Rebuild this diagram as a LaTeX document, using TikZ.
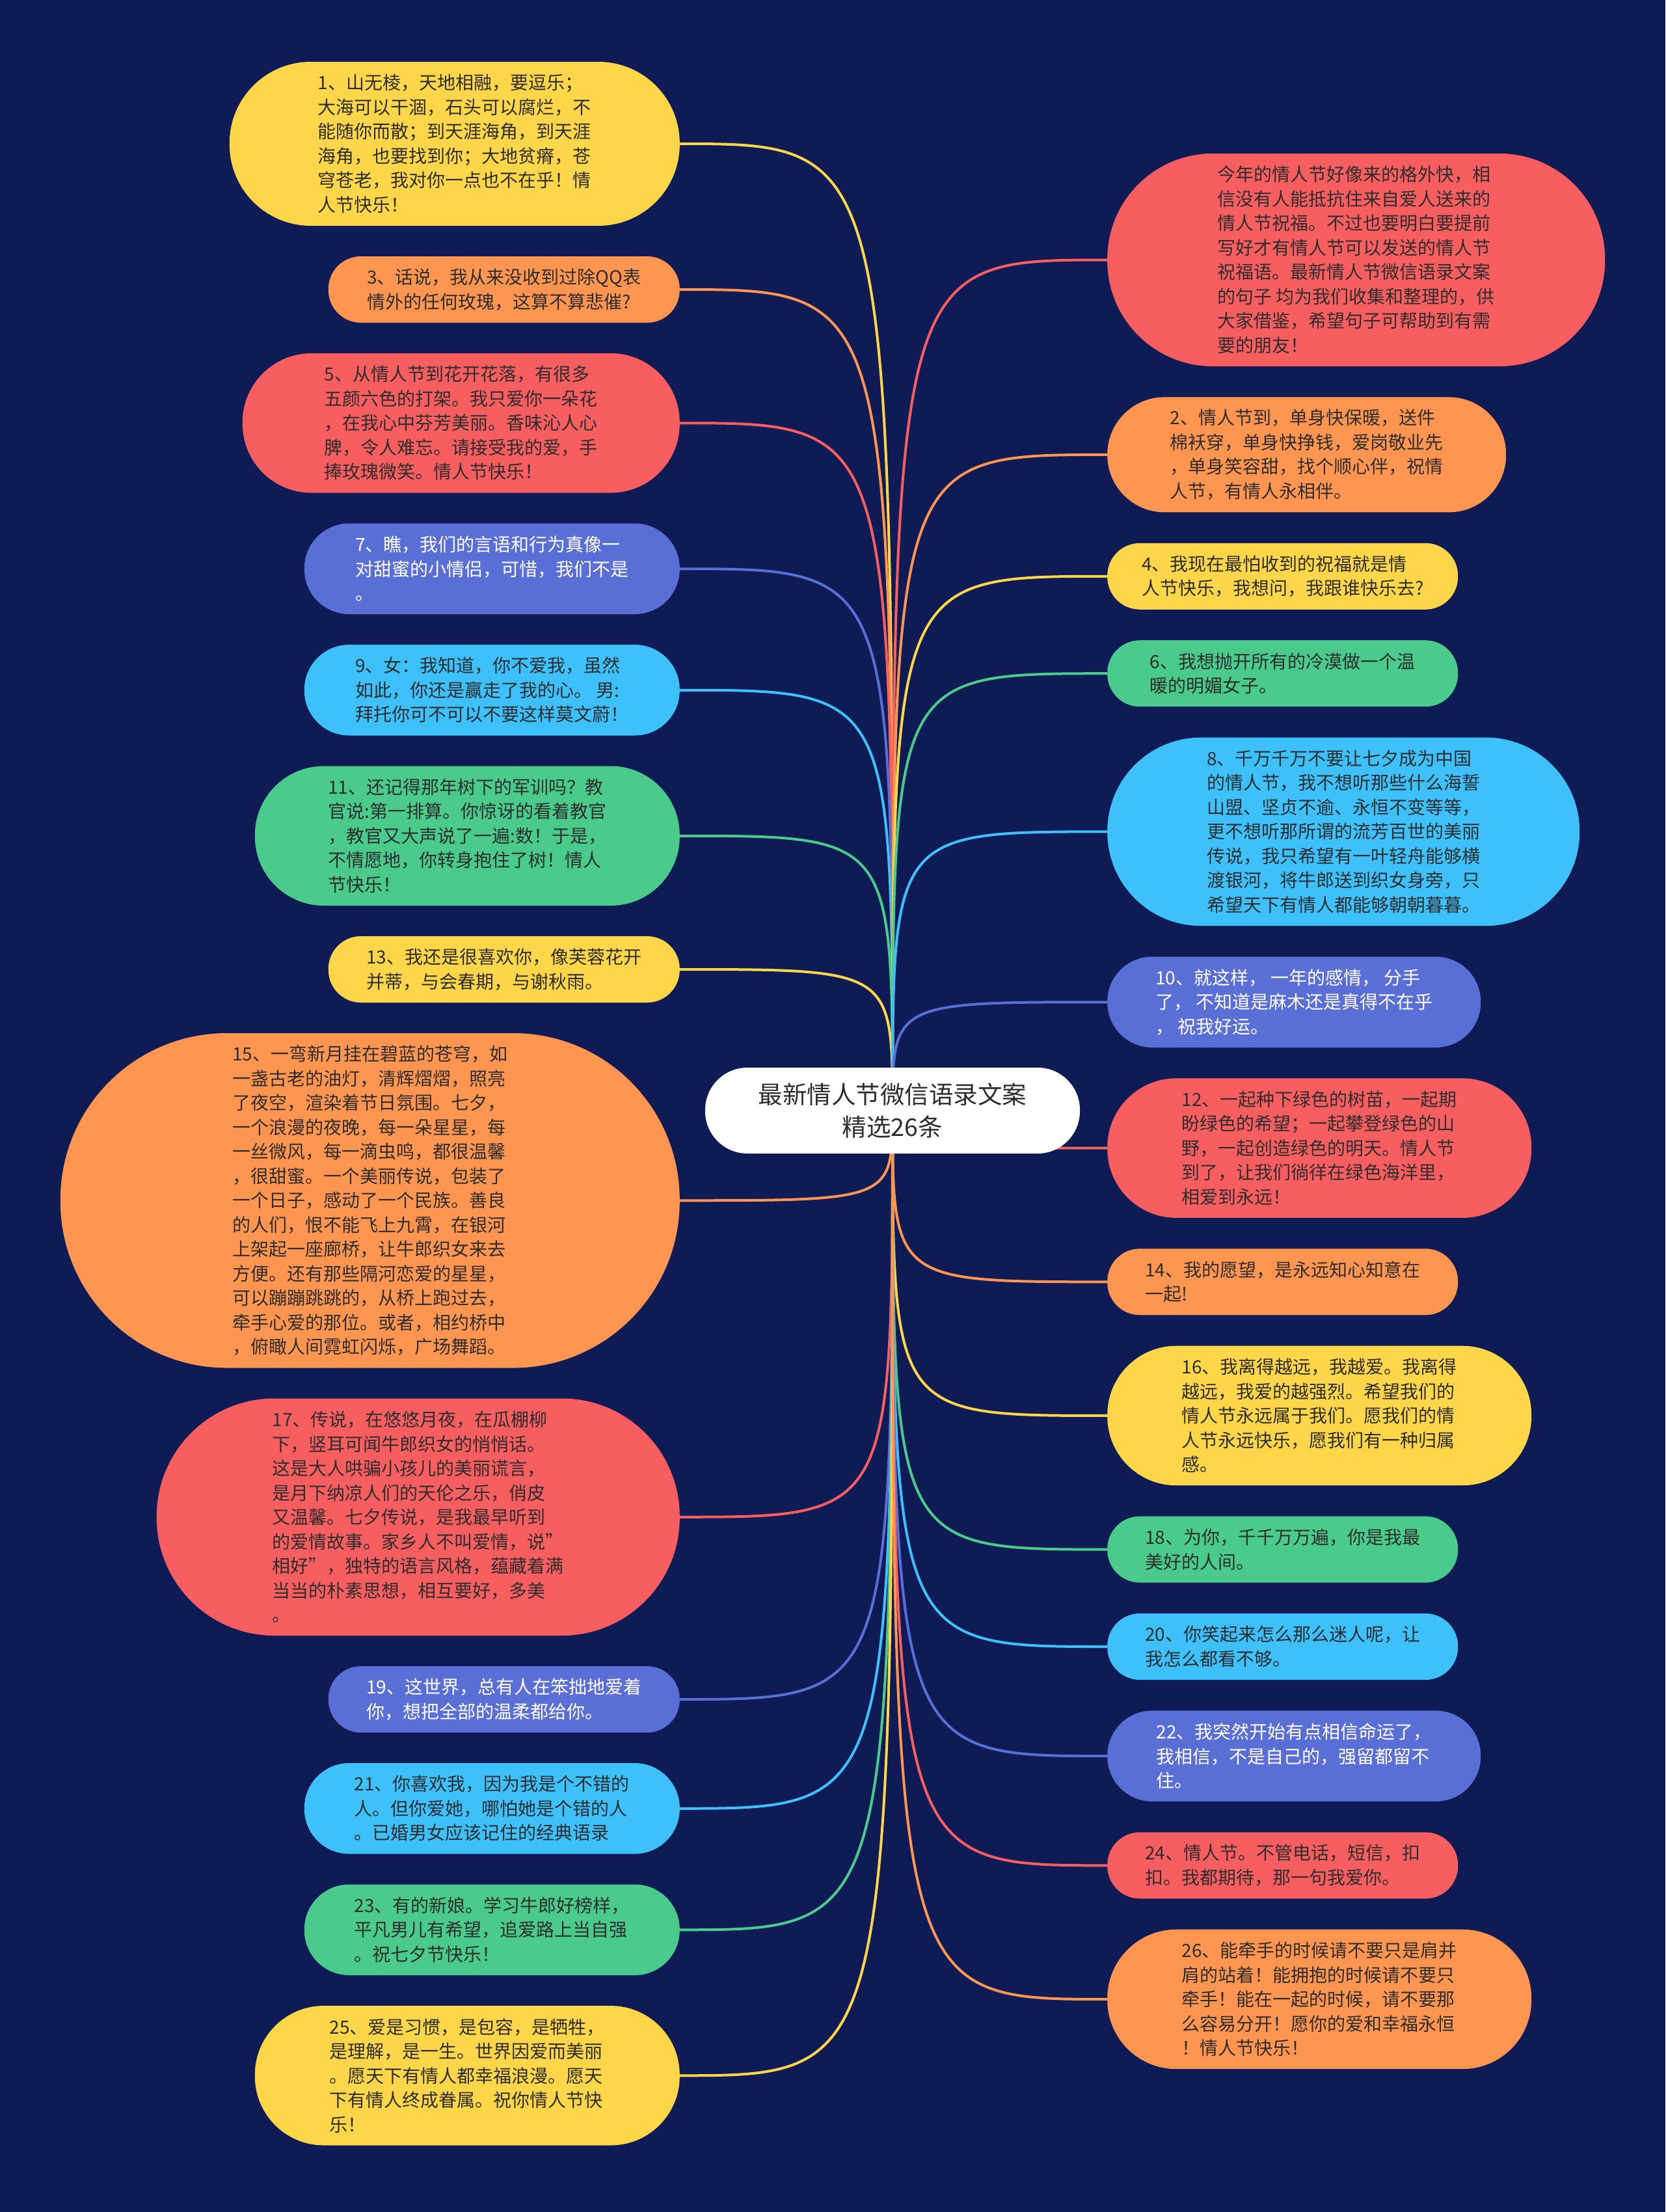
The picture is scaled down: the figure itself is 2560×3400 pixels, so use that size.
\documentclass[tikz,border=0pt]{standalone}
\usepackage{fontspec}
\setmainfont{Noto Sans CJK SC}
\definecolor{bgc}{HTML}{0F1B55}
\definecolor{cyel}{HTML}{FDD64A}
\definecolor{cora}{HTML}{FE9652}
\definecolor{cred}{HTML}{F75E60}
\definecolor{cpur}{HTML}{5A6FD5}
\definecolor{csky}{HTML}{3EC0FB}
\definecolor{cgrn}{HTML}{4ACB8B}
\definecolor{txt}{HTML}{2D2D2D}
\pgfdeclarelayer{back}
\pgfsetlayers{back,main}
\tikzset{
  bx/.style={inner sep=0pt, align=left, font=\fontsize{28}{37.5}\selectfont, text=txt},
  yb/.style={bx, fill=cyel}, ob/.style={bx, fill=cora}, rb/.style={bx, fill=cred},
  pb/.style={bx, fill=cpur, text=white}, sb/.style={bx, fill=csky}, gb/.style={bx, fill=cgrn},
  lk/.style={line width=4pt},
  ttl/.style={fill=white, inner sep=0pt, align=center, font=\fontsize{37.5}{50}\selectfont, text=txt}
}
\begin{document}
\begin{tikzpicture}[x=1pt,y=-1pt]
\useasboundingbox (0,0) rectangle (2560,3400);
\begin{pgfonlayer}{back}
\fill[bgc] (0,0) rectangle (2560,3400);
\end{pgfonlayer}

\node[ttl, minimum width=576, minimum height=132, rounded corners=65] (ctr) at (1372,1707) {最新情人节微信语录文案\\精选26条};

% left column
\node[yb, anchor=east, minimum width=692, minimum height=252, rounded corners=125] (n1) at (1045,221) {1、山无棱，天地相融，要逗乐；\\大海可以干涸，石头可以腐烂，不\\能随你而散；到天涯海角，到天涯\\海角，也要找到你；大地贫瘠，苍\\穹苍老，我对你一点也不在乎！情\\人节快乐！};
\node[ob, anchor=east, minimum width=540, minimum height=102, rounded corners=50] (n3) at (1045,445) {3、话说，我从来没收到过除QQ表\\情外的任何玫瑰，这算不算悲催?};
\node[rb, anchor=east, minimum width=672, minimum height=214.5, rounded corners=106] (n5) at (1045,650.25) {5、从情人节到花开花落，有很多\\五颜六色的打架。我只爱你一朵花\\，在我心中芬芳美丽。香味沁人心\\脾，令人难忘。请接受我的爱，手\\捧玫瑰微笑。情人节快乐！};
\node[pb, anchor=east, minimum width=577, minimum height=139.5, rounded corners=69] (n7) at (1045,874.25) {7、瞧，我们的言语和行为真像一\\对甜蜜的小情侣，可惜，我们不是\\。};
\node[sb, anchor=east, minimum width=577, minimum height=139.5, rounded corners=69] (n9) at (1045,1060.75) {9、女：我知道，你不爱我，虽然\\如此，你还是赢走了我的心。 男:\\拜托你可不可以不要这样莫文蔚！};
\node[gb, anchor=east, minimum width=653, minimum height=214.5, rounded corners=106] (n11) at (1045,1284.75) {11、还记得那年树下的军训吗？教\\官说:第一排算。你惊讶的看着教官\\，教官又大声说了一遍:数！于是，\\不情愿地，你转身抱住了树！情人\\节快乐！};
\node[yb, anchor=east, minimum width=540, minimum height=102, rounded corners=50] (n13) at (1045,1490) {13、我还是很喜欢你，像芙蓉花开\\并蒂，与会春期，与谢秋雨。};
\node[ob, anchor=east, minimum width=952, minimum height=514.5, rounded corners=256] (n15) at (1045,1845.25) {15、一弯新月挂在碧蓝的苍穹，如\\一盏古老的油灯，清辉熠熠，照亮\\了夜空，渲染着节日氛围。七夕，\\一个浪漫的夜晚，每一朵星星，每\\一丝微风，每一滴虫鸣，都很温馨\\，很甜蜜。一个美丽传说，包装了\\一个日子，感动了一个民族。善良\\的人们，恨不能飞上九霄，在银河\\上架起一座廊桥，让牛郎织女来去\\方便。还有那些隔河恋爱的星星，\\可以蹦蹦跳跳的，从桥上跑过去，\\牵手心爱的那位。或者，相约桥中\\，俯瞰人间霓虹闪烁，广场舞蹈。};
\node[rb, anchor=east, minimum width=804, minimum height=364.5, rounded corners=181] (n17) at (1045,2331.75) {17、传说，在悠悠月夜，在瓜棚柳\\下，竖耳可闻牛郎织女的悄悄话。\\这是大人哄骗小孩儿的美丽谎言，\\是月下纳凉人们的天伦之乐，俏皮\\又温馨。七夕传说，是我最早听到\\的爱情故事。家乡人不叫爱情，说"\\相好"，独特的语言风格，蕴藏着满\\当当的朴素思想，相互要好，多美\\。};
\node[pb, anchor=east, minimum width=540, minimum height=102, rounded corners=50] (n19) at (1045,2612) {19、这世界，总有人在笨拙地爱着\\你，想把全部的温柔都给你。};
\node[sb, anchor=east, minimum width=577, minimum height=139.5, rounded corners=69] (n21) at (1045,2779.75) {21、你喜欢我，因为我是个不错的\\人。但你爱她，哪怕她是个错的人\\。已婚男女应该记住的经典语录};
\node[gb, anchor=east, minimum width=577, minimum height=139.5, rounded corners=69] (n23) at (1045,2966.25) {23、有的新娘。学习牛郎好榜样，\\平凡男儿有希望，追爱路上当自强\\。祝七夕节快乐！};
\node[yb, anchor=east, minimum width=653, minimum height=214.5, rounded corners=106] (n25) at (1045,3190.25) {25、爱是习惯，是包容，是牺牲，\\是理解，是一生。世界因爱而美丽\\。愿天下有情人都幸福浪漫。愿天\\下有情人终成眷属。祝你情人节快\\乐！};

% right column
\node[rb, anchor=west, minimum width=765, minimum height=327, rounded corners=162] (n0) at (1702,399.5) {今年的情人节好像来的格外快，相\\信没有人能抵抗住来自爱人送来的\\情人节祝福。不过也要明白要提前\\写好才有情人节可以发送的情人节\\祝福语。最新情人节微信语录文案\\的句子 均为我们收集和整理的，供\\大家借鉴，希望句子可帮助到有需\\要的朋友！};
\node[ob, anchor=west, minimum width=613, minimum height=177, rounded corners=88] (n2) at (1702,698.9) {2、情人节到，单身快保暖，送件\\棉袄穿，单身快挣钱，爱岗敬业先\\，单身笑容甜，找个顺心伴，祝情\\人节，有情人永相伴。};
\node[yb, anchor=west, minimum width=539, minimum height=102, rounded corners=50] (n4) at (1702,885.8) {4、我现在最怕收到的祝福就是情\\人节快乐，我想问，我跟谁快乐去?};
\node[gb, anchor=west, minimum width=539, minimum height=102, rounded corners=50] (n6) at (1702,1035.2) {6、我想抛开所有的冷漠做一个温\\暖的明媚女子。};
\node[sb, anchor=west, minimum width=726, minimum height=289.5, rounded corners=144] (n8) at (1702,1278.35) {8、千万千万不要让七夕成为中国\\的情人节，我不想听那些什么海誓\\山盟、坚贞不逾、永恒不变等等，\\更不想听那所谓的流芳百世的美丽\\传说，我只希望有一叶轻舟能够横\\渡银河，将牛郎送到织女身旁，只\\希望天下有情人都能够朝朝暮暮。};
\node[pb, anchor=west, minimum width=574, minimum height=139.5, rounded corners=69] (n10) at (1702,1540.25) {10、就这样， 一年的感情， 分手\\了， 不知道是麻木还是真得不在乎\\， 祝我好运。};
\node[rb, anchor=west, minimum width=652, minimum height=214.5, rounded corners=106] (n12) at (1702,1764.65) {12、一起种下绿色的树苗，一起期\\盼绿色的希望；一起攀登绿色的山\\野，一起创造绿色的明天。情人节\\到了，让我们徜徉在绿色海洋里，\\相爱到永远！};
\node[ob, anchor=west, minimum width=539, minimum height=102, rounded corners=50] (n14) at (1702,1970.3) {14、我的愿望，是永远知心知意在\\一起!};
\node[yb, anchor=west, minimum width=652, minimum height=214.5, rounded corners=106] (n16) at (1702,2175.95) {16、我离得越远，我越爱。我离得\\越远，我爱的越强烈。希望我们的\\情人节永远属于我们。愿我们的情\\人节永远快乐，愿我们有一种归属\\感。};
\node[gb, anchor=west, minimum width=539, minimum height=102, rounded corners=50] (n18) at (1702,2381.6) {18、为你，千千万万遍，你是我最\\美好的人间。};
\node[sb, anchor=west, minimum width=539, minimum height=102, rounded corners=50] (n20) at (1702,2531) {20、你笑起来怎么那么迷人呢，让\\我怎么都看不够。};
\node[pb, anchor=west, minimum width=574, minimum height=139.5, rounded corners=69] (n22) at (1702,2699.15) {22、我突然开始有点相信命运了，\\我相信，不是自己的，强留都留不\\住。};
\node[rb, anchor=west, minimum width=539, minimum height=102, rounded corners=50] (n24) at (1702,2867.3) {24、情人节。不管电话，短信，扣\\扣。我都期待，那一句我爱你。};
\node[ob, anchor=west, minimum width=652, minimum height=214.5, rounded corners=106] (n26) at (1702,3072.95) {26、能牵手的时候请不要只是肩并\\肩的站着！能拥抱的时候请不要只\\牵手！能在一起的时候，请不要那\\么容易分开！愿你的爱和幸福永恒\\！情人节快乐！};

\begin{pgfonlayer}{back}
\foreach \n/\c in {n1/cyel,n3/cora,n5/cred,n7/cpur,n9/csky,n11/cgrn,n13/cyel,n15/cora,n17/cred,n19/cpur,n21/csky,n23/cgrn,n25/cyel}
  \draw[lk,\c] (ctr.center) .. controls (ctr.center |- \n.east) .. (\n.east);
\foreach \n/\c in {n0/cred,n2/cora,n4/cyel,n6/cgrn,n8/csky,n10/cpur,n12/cred,n14/cora,n16/cyel,n18/cgrn,n20/csky,n22/cpur,n24/cred,n26/cora}
  \draw[lk,\c] (ctr.center) .. controls (ctr.center |- \n.west) .. (\n.west);
\end{pgfonlayer}
\end{tikzpicture}
\end{document}
